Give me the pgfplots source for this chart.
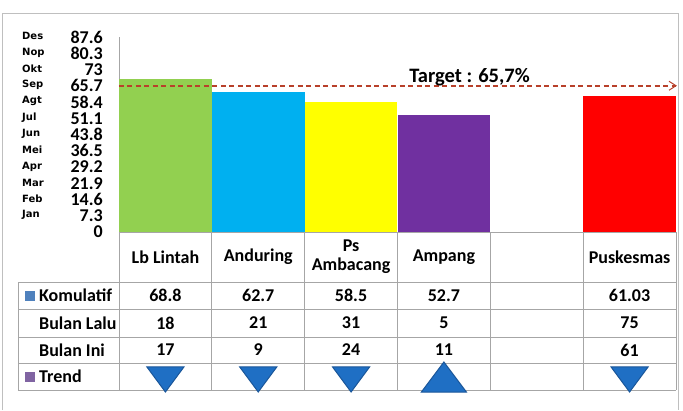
\documentclass[border=0pt]{standalone}
\usepackage{fontspec}
\setmainfont{Carlito}
\newfontfamily\mfont{DejaVu Sans}
\usepackage{pgfplots}
\pgfplotsset{compat=1.18}
\usetikzlibrary{arrows.meta}
\definecolor{cgreen}{HTML}{92D050}
\definecolor{cblue}{HTML}{00B0F0}
\definecolor{cyellow}{HTML}{FFFF00}
\definecolor{cpurple}{HTML}{7030A0}
\definecolor{cred}{HTML}{FF0000}
\definecolor{gridgray}{HTML}{A6A6A6}
\definecolor{framegray}{HTML}{BFBFBF}
\definecolor{tred}{HTML}{B8402A}
\definecolor{keyblue}{HTML}{4F81BD}
\definecolor{keypurple}{HTML}{8064A2}
\definecolor{trifill}{HTML}{1F6FC4}
\definecolor{tridraw}{HTML}{1A5699}
\newcommand{\tabfont}{\bfseries\fontsize{18}{20}\selectfont}
\begin{document}
\begin{tikzpicture}
% outer frame
\draw[framegray, line width=0.8pt] (-117pt,-178pt) -- (-117pt,219pt) -- (559pt,219pt) -- (559pt,-178pt);
\begin{axis}[
  name=main, at={(0,0)}, anchor=south west,
  scale only axis, width=557pt, height=195pt,
  xmin=0, xmax=6, ymin=0, ymax=87.6,
  clip=false,
  axis x line=none, axis y line*=left,
  y axis line style={draw=gridgray, line width=0.8pt},
  xtick=\empty, ytick=\empty,
]
\addplot[ybar, bar width=1, bar shift=0pt, fill=cgreen, draw=none] coordinates {(0.5,68.8)};
\addplot[ybar, bar width=1, bar shift=0pt, fill=cblue, draw=none] coordinates {(1.5,62.7)};
\addplot[ybar, bar width=1, bar shift=0pt, fill=cyellow, draw=none] coordinates {(2.5,58.5)};
\addplot[ybar, bar width=1, bar shift=0pt, fill=cpurple, draw=none] coordinates {(3.5,52.7)};
\addplot[ybar, bar width=1, bar shift=0pt, fill=cred, draw=none] coordinates {(5.5,61.03)};
\addplot[draw=tred, line width=1.6pt, dash pattern=on 5pt off 3.5pt, -{Straight Barb[length=7pt,width=9pt,line width=1pt]}] coordinates {(0,65.7) (6.01,65.7)};
\node[font=\bfseries\fontsize{20.5}{24}\selectfont, inner sep=0pt] at (axis cs:3.776,69.4) {Target : 65,7\%};
% y axis scale labels (numbers)
\addplot[only marks, mark=none, nodes near coords, point meta=explicit symbolic,
  every node near coord/.append style={anchor=east, xshift=-16pt, font=\tabfont, inner sep=0pt}]
  coordinates {(0,0)[0] (0,7.3)[7.3] (0,14.6)[14.6] (0,21.9)[21.9] (0,29.2)[29.2] (0,36.5)[36.5]
               (0,43.8)[43.8] (0,51.1)[51.1] (0,58.4)[58.4] (0,65.7)[65.7] (0,73)[73] (0,80.3)[80.3] (0,87.6)[87.6]};
% y axis scale labels (months)
\addplot[only marks, mark=none, nodes near coords, point meta=explicit symbolic,
  every node near coord/.append style={anchor=west, xshift=-97pt, yshift=0.6pt, font=\mfont\bfseries\fontsize{10}{12}\selectfont, inner sep=0pt}]
  coordinates {(0,7.3)[Jan] (0,14.6)[Feb] (0,21.9)[Mar] (0,29.2)[Apr] (0,36.5)[Mei]
               (0,43.8)[Jun] (0,51.1)[Jul] (0,58.4)[Agt] (0,65.7)[Sep] (0,73)[Okt] (0,80.3)[Nop] (0,87.6)[Des]};
\end{axis}
\begin{axis}[
  at={(0,0)}, anchor=north west,
  scale only axis, width=557pt, height=158pt,
  xmin=0, xmax=6, ymin=0, ymax=158, y dir=reverse,
  hide axis, clip=false,
]
% grid
\draw[gridgray, line width=0.8pt] (axis cs:0,0) -- (axis cs:6,0);
\draw[gridgray, line width=0.8pt] (axis cs:-1.088,50) -- (axis cs:6,50);
\draw[gridgray, line width=0.8pt] (axis cs:-1.088,77) -- (axis cs:6,77);
\draw[gridgray, line width=0.8pt] (axis cs:-1.088,105) -- (axis cs:6,105);
\draw[gridgray, line width=0.8pt] (axis cs:-1.088,131) -- (axis cs:6,131);
\draw[gridgray, line width=0.8pt] (axis cs:-1.088,158) -- (axis cs:6,158);
\draw[gridgray, line width=0.8pt] (axis cs:-1.088,50) -- (axis cs:-1.088,158);
\draw[gridgray, line width=0.8pt] (axis cs:0,0) -- (axis cs:0,158);
\draw[gridgray, line width=0.8pt] (axis cs:1,0) -- (axis cs:1,158);
\draw[gridgray, line width=0.8pt] (axis cs:2,0) -- (axis cs:2,158);
\draw[gridgray, line width=0.8pt] (axis cs:3,0) -- (axis cs:3,158);
\draw[gridgray, line width=0.8pt] (axis cs:4,0) -- (axis cs:4,158);
\draw[gridgray, line width=0.8pt] (axis cs:5,0) -- (axis cs:5,158);
\draw[gridgray, line width=0.8pt] (axis cs:6,0) -- (axis cs:6,158);
% headers
\node[font=\tabfont] at (axis cs:0.5,25) {Lb Lintah};
\node[font=\tabfont] at (axis cs:1.5,25) {Anduring};
\node[font=\tabfont, align=center] at (axis cs:2.5,25) {Ps\\[-1pt]Ambacang};
\node[font=\tabfont] at (axis cs:3.5,25) {Ampang};
\node[font=\tabfont] at (axis cs:5.5,25) {Puskesmas};
% row labels
\fill[keyblue] (axis cs:-1.013,58.5) rectangle (axis cs:-0.905,68.5);
\fill[keypurple] (axis cs:-1.013,139.5) rectangle (axis cs:-0.905,149.5);
\node[font=\tabfont, anchor=west, inner sep=0pt] at (axis cs:-0.862,63.5) {Komulatif};
\node[font=\tabfont, anchor=west, inner sep=0pt] at (axis cs:-0.862,91) {Bulan Lalu};
\node[font=\tabfont, anchor=west, inner sep=0pt] at (axis cs:-0.862,118) {Bulan Ini};
\node[font=\tabfont, anchor=west, inner sep=0pt] at (axis cs:-0.862,144.5) {Trend};
% values
\addplot[only marks, mark=none, nodes near coords, point meta=explicit symbolic,
  every node near coord/.append style={anchor=center, font=\tabfont, inner sep=0pt}]
  coordinates {(0.5,63.5)[68.8] (1.5,63.5)[62.7] (2.5,63.5)[58.5] (3.5,63.5)[52.7] (5.5,63.5)[61.03]
               (0.5,91)[18] (1.5,91)[21] (2.5,91)[31] (3.5,91)[5] (5.5,91)[75]
               (0.5,118)[17] (1.5,118)[9] (2.5,118)[24] (3.5,118)[11] (5.5,118)[61]};
% trend
\addplot[only marks, mark=triangle*, mark size=21.4pt,
  mark options={rotate=180, yscale=0.78, fill=trifill, draw=tridraw, line width=1pt}]
  coordinates {(0.5,143.3) (1.5,143.3) (2.5,143.3) (5.5,143.3)};
\addplot[only marks, mark=triangle*, mark size=26pt,
  mark options={yscale=0.77, fill=trifill, draw=tridraw, line width=1pt}]
  coordinates {(3.5,150)};
\end{axis}
\pgfresetboundingbox
\path (-119pt,-178pt) rectangle (564pt,232pt);
\end{tikzpicture}
\end{document}
